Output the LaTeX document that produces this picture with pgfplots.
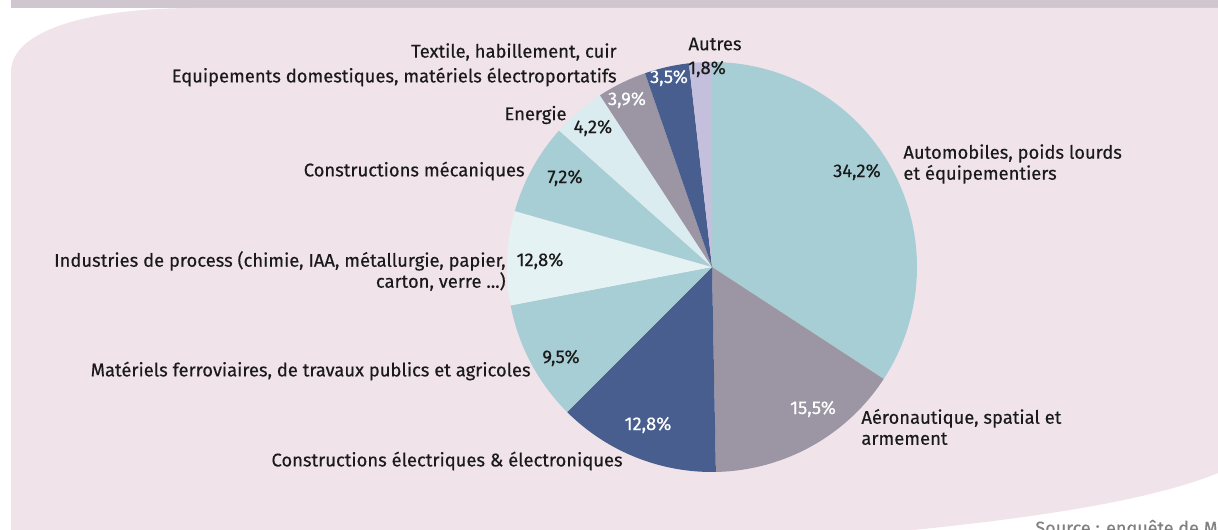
\documentclass[border=0pt]{standalone}
\usepackage{pgfplots}
\usepackage{pgfplotstable}
\pgfplotsset{compat=1.18}
\usepackage{fontspec}
\setmainfont{Fira Sans}[FakeBold=0.35]
\definecolor{cTeal}{HTML}{A7CED5}
\definecolor{cGray}{HTML}{9B95A4}
\definecolor{cBlue}{HTML}{475E8E}
\definecolor{cPale}{HTML}{E5F2F3}
\definecolor{cLight}{HTML}{DAECEF}
\definecolor{cLav}{HTML}{C4BFDC}
\definecolor{bgPink}{HTML}{F0E4EA}
\definecolor{bandCol}{HTML}{CFC6D0}
\definecolor{txt}{HTML}{1A1A1A}

\pgfplotstableread[col sep=comma]{
val,col
34.2,cTeal
15.5,cGray
12.8,cBlue
9.5,cTeal
7.4,cPale
7.2,cTeal
4.2,cLight
3.9,cGray
3.5,cBlue
1.8,cLav
}\piedata

\begin{document}
\begin{tikzpicture}
\path[use as bounding box] (0,0) rectangle (609pt,264.5pt);
\clip (0,0) rectangle (609pt,264.5pt);
\begin{scope}[x=0.5pt,y=-0.5pt,shift={(0pt,264.5pt)}]
  \fill[bandCol] (11,-5) rectangle (1230,8);
  \fill[bgPink] (11,540) -- (11,72) .. controls (11,30) and (90,8) .. (195,8) -- (1230,8) -- (1230,468)
     .. controls (1160,500) and (1030,520) .. (860,535) -- (860,540) -- cycle;
  \node[text=gray, font=\fontsize{9}{10}\selectfont, anchor=west, inner sep=0pt] at (1035,529) {Source : enquête de MIDEST};
\end{scope}

\begin{axis}[
  at={(356pt,131pt)}, anchor=center,
  scale only axis, width=205pt, height=205pt,
  xmin=-1, xmax=1, ymin=-1, ymax=1,
  hide axis, clip=false]
  \def\cum{0}
  \pgfplotsforeachungrouped \i in {0,...,9}{
    \pgfplotstablegetelem{\i}{val}\of\piedata \let\v\pgfplotsretval
    \pgfplotstablegetelem{\i}{col}\of\piedata \let\c\pgfplotsretval
    \pgfmathsetmacro\aend{90-3.6*\cum}
    \pgfmathsetmacro\cum{\cum+\v}
    \pgfmathsetmacro\astart{90-3.6*\cum}
    \edef\temp{\noexpand\addplot[fill=\c, draw=none, samples=80, domain=\astart:\aend] ({cos(x)},{sin(x)}) -- (axis cs:0,0) -- cycle;}
    \temp
  }
\end{axis}

\begin{scope}[x=0.5pt,y=-0.5pt,shift={(0pt,264.5pt)}, every node/.style={font=\fontsize{9.2}{10.5}\selectfont, text=txt, inner sep=0pt}]
  \node[anchor=east] at (617,52) {Textile, habillement, cuir};
  \node at (715,44) {Autres};
  \node at (707,69) {1,8\%};
  \node[anchor=east] at (617,77) {Equipements domestiques, matériels électroportatifs};
  \node[text=white] at (669,78) {3,5\%};
  \node[text=white] at (627,100) {3,9\%};
  \node[anchor=east] at (567,115) {Energie};
  \node at (593,128) {4,2\%};
  \node[anchor=east] at (525,171) {Constructions mécaniques};
  \node at (565,178) {7,2\%};
  \node[anchor=east, align=right] at (506,271) {Industries de process (chimie, IAA, métallurgie, papier,\\carton, verre ...)};
  \node at (540,261) {12,8\%};
  \node[anchor=east] at (531,371) {Matériels ferroviaires, de travaux publics et agricoles};
  \node at (561,358) {9,5\%};
  \node[anchor=east] at (623,461) {Constructions électriques \& électroniques};
  \node[text=white] at (648,425) {12,8\%};
  \node[text=white] at (813,409) {15,5\%};
  \node[anchor=west, align=left] at (861,427) {Aéronautique, spatial et\\armement};
  \node at (857,172) {34,2\%};
  \node[anchor=west, align=left] at (903,164) {Automobiles, poids lourds\\et équipementiers};
\end{scope}
\end{tikzpicture}
\end{document}
